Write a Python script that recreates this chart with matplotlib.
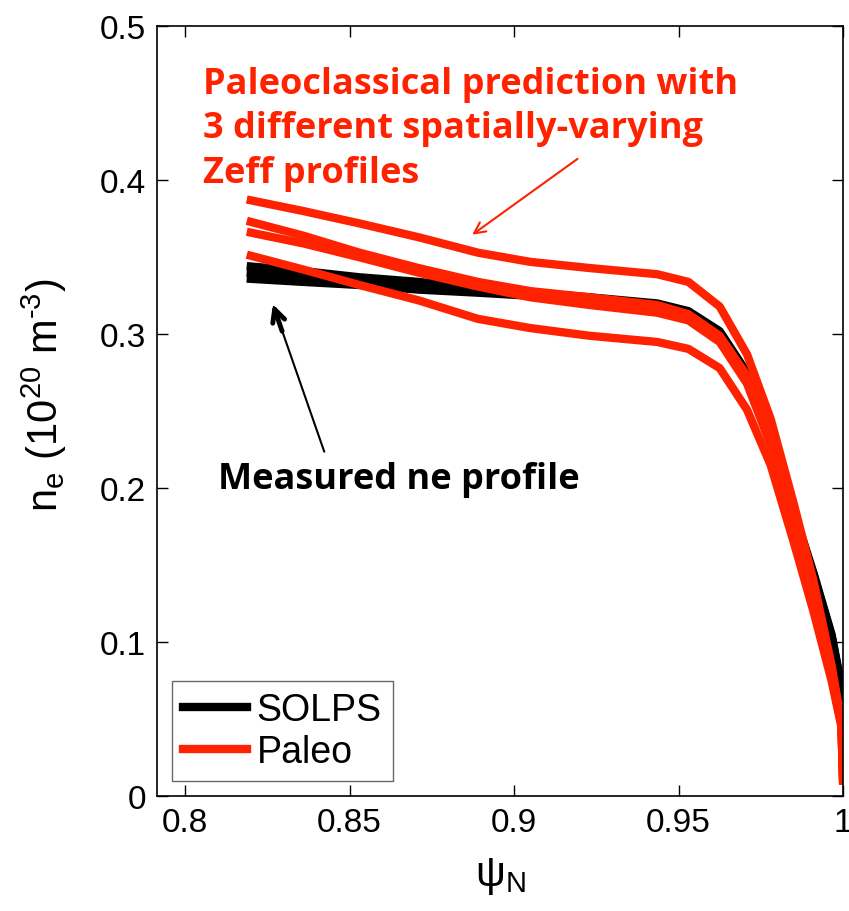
import matplotlib
matplotlib.use("Agg")
import matplotlib.pyplot as plt

# psi_N grid and density profiles (10^20 m^-3)
psi = [0.82, 0.836, 0.853, 0.871, 0.889, 0.905, 0.923, 0.9435, 0.953,
       0.9625, 0.9708, 0.978, 0.985, 0.991, 0.9965, 0.9995, 1.0]

paleo_1 = [0.387, 0.380, 0.372, 0.363, 0.353, 0.347, 0.343, 0.339, 0.334,
           0.318, 0.287, 0.245, 0.190, 0.140, 0.085, 0.048, 0.010]
paleo_2 = [0.373, 0.364, 0.353, 0.343, 0.334, 0.328, 0.324, 0.319, 0.313,
           0.299, 0.273, 0.235, 0.182, 0.130, 0.080, 0.047, 0.010]
paleo_3 = [0.366, 0.359, 0.350, 0.340, 0.331, 0.324, 0.319, 0.314, 0.309,
           0.295, 0.268, 0.228, 0.178, 0.128, 0.078, 0.046, 0.010]
paleo_4 = [0.351, 0.342, 0.332, 0.322, 0.310, 0.304, 0.299, 0.295, 0.2905,
           0.278, 0.251, 0.215, 0.165, 0.120, 0.075, 0.045, 0.010]

psi_solps = [0.82, 0.836, 0.853, 0.871, 0.889, 0.905, 0.923, 0.9435, 0.953,
             0.9625, 0.9708, 0.978, 0.985, 0.991, 0.9965, 1.0]
solps_1 = [0.344, 0.341, 0.337, 0.334, 0.330, 0.327, 0.324, 0.320, 0.315,
           0.302, 0.275, 0.235, 0.185, 0.145, 0.105, 0.066]
solps_2 = [0.340, 0.337, 0.334, 0.331, 0.328, 0.326, 0.323, 0.319, 0.314,
           0.301, 0.274, 0.234, 0.184, 0.144, 0.104, 0.065]
solps_3 = [0.336, 0.334, 0.332, 0.329, 0.327, 0.325, 0.322, 0.318, 0.313,
           0.300, 0.273, 0.233, 0.183, 0.143, 0.103, 0.064]

red = "#ff2200"

plt.rcParams["font.family"] = ["Liberation Sans", "DejaVu Sans"]
plt.rcParams["mathtext.fontset"] = "custom"
plt.rcParams["mathtext.rm"] = "Liberation Sans"
plt.rcParams["mathtext.it"] = "Liberation Sans"

fig = plt.figure(figsize=(8.49, 9.12), dpi=100)
ax = fig.add_axes([0.185, 0.126, 0.808, 0.844])

lw = 6
ax.plot(psi_solps, solps_1, color="black", lw=lw, label="SOLPS")
ax.plot(psi_solps, solps_2, color="black", lw=lw)
ax.plot(psi_solps, solps_3, color="black", lw=lw)
for i, p in enumerate([paleo_1, paleo_2, paleo_3, paleo_4]):
    ax.plot(psi, p, color=red, lw=lw, label="Paleo" if i == 0 else None)

ax.set_xlim(0.7915, 1.0)
ax.set_ylim(0, 0.5)
ax.set_xticks([0.8, 0.85, 0.9, 0.95, 1.0])
ax.set_xticklabels(["0.8", "0.85", "0.9", "0.95", "1"])
ax.set_yticks([0, 0.1, 0.2, 0.3, 0.4, 0.5])
ax.set_yticklabels(["0", "0.1", "0.2", "0.3", "0.4", "0.5"])
ax.tick_params(direction="in", length=8, width=1, labelsize=24,
               top=True, right=True, pad=8)
for s in ax.spines.values():
    s.set_linewidth(1.2)

ax.set_xlabel("ψ$_\\mathrm{N}$", fontsize=30, labelpad=12)
ax.set_ylabel("n$_\\mathrm{e}$ (10$^{20}$ m$^{\u2010\\mathrm{3}}$)", fontsize=30)
ax.yaxis.set_label_coords(-0.128, 0.522)

leg = ax.legend(loc="lower left", fontsize=27, handlelength=1.7,
                frameon=True, fancybox=False, borderaxespad=0.4,
                handletextpad=0.25, borderpad=0.3, labelspacing=0.15)
leg.get_frame().set_edgecolor("#444444")
leg.get_frame().set_linewidth(1)

ann_font = ["Open Sans", "DejaVu Sans"]
ax.text(0.8055, 0.474, "Paleoclassical prediction with\n3 different spatially-varying\nZeff profiles",
        color=red, fontsize=26, fontweight="bold", family=ann_font,
        va="top", ha="left", linespacing=1.3)
ax.annotate("", xy=(0.8866, 0.3636), xytext=(0.920, 0.415),
            arrowprops=dict(arrowstyle="->,head_length=0.8,head_width=0.4",
                            color=red, lw=1.5))

ax.text(0.810, 0.206, "Measured ne profile", color="black", fontsize=26,
        fontweight="bold", family=ann_font, va="center", ha="left")
ax.annotate("", xy=(0.8267, 0.3195), xytext=(0.8426, 0.222),
            arrowprops=dict(arrowstyle="-", color="black", lw=1.5))
ax.annotate("", xy=(0.8267, 0.3195), xytext=(0.8295, 0.302),
            arrowprops=dict(arrowstyle="->,head_length=0.9,head_width=0.45",
                            color="black", lw=3.5, shrinkA=0, shrinkB=0))

fig.savefig("out.png", dpi=100)
